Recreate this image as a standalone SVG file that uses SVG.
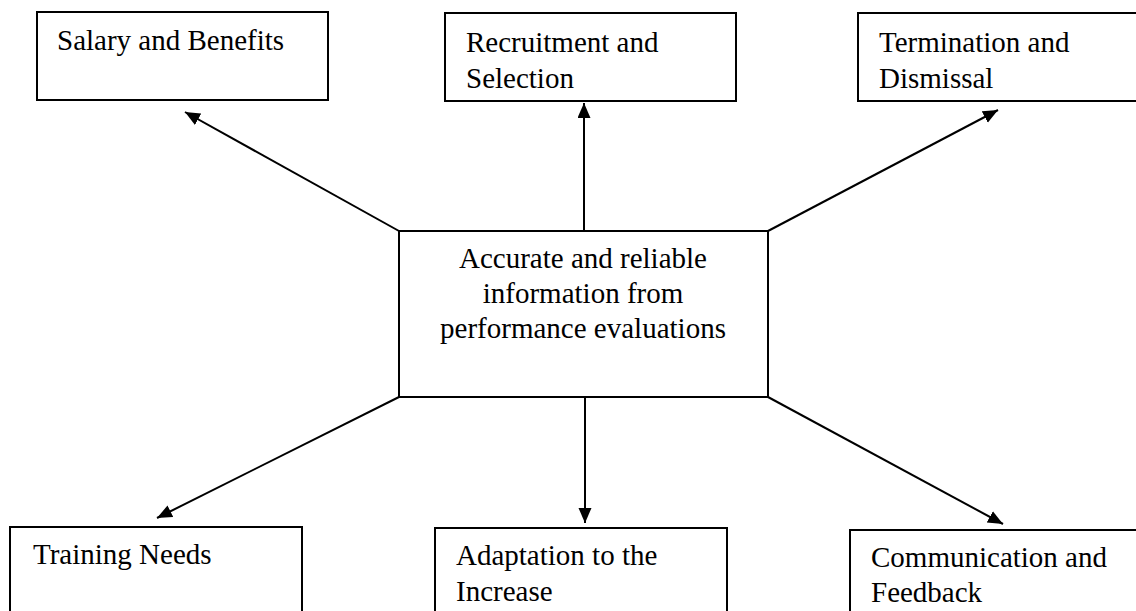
<svg xmlns="http://www.w3.org/2000/svg" width="1136" height="611" viewBox="0 0 1136 611">
<style>
.box{fill:#fff;stroke:#000;stroke-width:2}
.t{font-family:"Liberation Serif","Times New Roman",serif;font-size:29px;fill:#000}
.c{text-anchor:middle}
.ln{stroke:#000;stroke-width:2;fill:none;marker-end:url(#ah)}
</style>
<defs>
<marker id="ah" markerUnits="userSpaceOnUse" markerWidth="16" markerHeight="14" refX="15" refY="6.5" orient="auto">
<path d="M0,0 L15,6.5 L0,13 z" fill="#000"/>
</marker>
</defs>
<rect width="1136" height="611" fill="#fff"/>
<g id="connectors">
<line class="ln" x1="399" y1="231" x2="185" y2="112"/>
<line class="ln" x1="584" y1="231" x2="584" y2="103"/>
<line class="ln" x1="768" y1="231" x2="998" y2="110"/>
<line class="ln" x1="399" y1="397" x2="157" y2="518"/>
<line class="ln" x1="585" y1="397" x2="585" y2="523"/>
<line class="ln" x1="768" y1="397" x2="1003" y2="524"/>
</g>
<g id="center">
<rect class="box" x="399" y="231" width="369" height="166"/>
<text class="t c" x="583" y="268">Accurate and reliable</text>
<text class="t c" x="583" y="303">information from</text>
<text class="t c" x="583" y="338">performance evaluations</text>
</g>
<g id="salary">
<rect class="box" x="37" y="12" width="291" height="88"/>
<text class="t" x="57" y="50">Salary and Benefits</text>
</g>
<g id="recruitment">
<rect class="box" x="445" y="13" width="291" height="88"/>
<text class="t" x="466" y="52">Recruitment and</text>
<text class="t" x="466" y="88">Selection</text>
</g>
<g id="termination">
<rect class="box" x="858" y="13" width="290" height="88"/>
<text class="t" x="879" y="52">Termination and</text>
<text class="t" x="879" y="88">Dismissal</text>
</g>
<g id="training">
<rect class="box" x="10" y="527" width="292" height="100"/>
<text class="t" x="33" y="564">Training Needs</text>
</g>
<g id="adaptation">
<rect class="box" x="435" y="528" width="292" height="100"/>
<text class="t" x="456" y="565">Adaptation to the</text>
<text class="t" x="456" y="601">Increase</text>
</g>
<g id="communication">
<rect class="box" x="850" y="530" width="300" height="100"/>
<text class="t" x="871" y="567">Communication and</text>
<text class="t" x="871" y="602">Feedback</text>
</g>
</svg>
